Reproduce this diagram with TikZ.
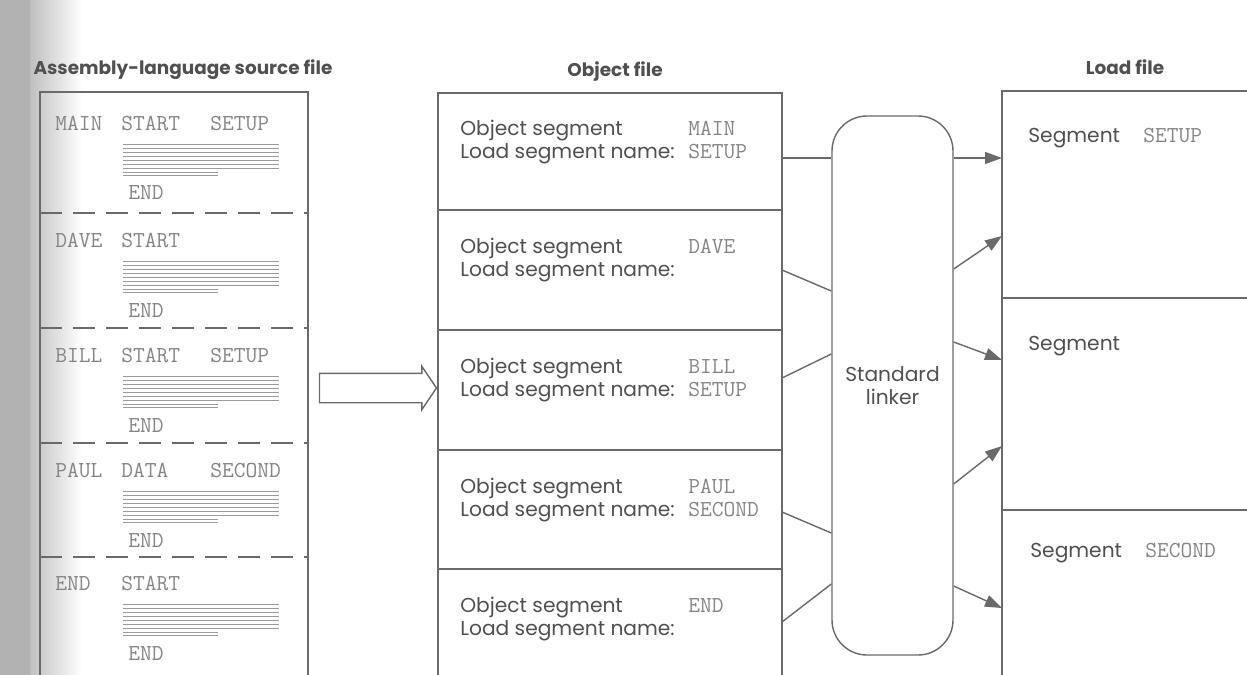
\documentclass[tikz,border=0pt]{standalone}
\usepackage{fontspec}
\setsansfont{Poppins}
\usetikzlibrary{arrows.meta,shapes.arrows}

\definecolor{ink}{HTML}{505050}
\definecolor{mono}{HTML}{858585}
\definecolor{rule}{HTML}{6A6A6A}
\definecolor{filler}{HTML}{9C9C9C}

\tikzset{
  frame/.style={draw=rule, line width=0.8pt},
  title/.style={font=\sffamily\bfseries\fontsize{10.5}{12}\selectfont, text=ink, inner sep=0pt, anchor=base},
  lbl/.style={font=\sffamily\fontsize{11.5}{13}\selectfont, text=ink, inner sep=0pt, anchor=base west},
  code/.style={font=\ttfamily\fontsize{13}{15}\selectfont, text=mono, inner sep=0pt, anchor=base west},
  link/.style={draw=rule, line width=0.8pt},
  feed/.style={link, -{Triangle[length=3.4mm,width=2.4mm]}},
}

\begin{document}
\begin{tikzpicture}[x=0.2mm, y=-0.2mm]
  \useasboundingbox (0,0) rectangle (1247,675);

  % page gutter shadow
  \fill[gray!60] (0,0) rectangle (30,675);
  \shade[left color=gray!50, right color=white] (30,0) rectangle (82,675);

  % titles
  \node[title] (srctitle) at (183,75) {Assembly-language source file};
  \node[title] (objtitle) at (615,77) {Object file};
  \node[title] (loadtitle) at (1125,75) {Load file};

  % assembly-language source file
  \draw[frame] (40,675) |- (308,92) -- (308,675);
  \foreach \y in {213,328,443,557}
    \draw[frame, dash pattern=on 4.4mm off 2.2mm] (40,\y) -- (308,\y);
  \foreach \i/\yb/\name/\opcode/\operand in {1/130/MAIN/START/SETUP, 2/247/DAVE/START/, 3/362/BILL/START/SETUP, 4/477/PAUL/DATA/SECOND, 5/590/END/START/} {
    \node[code] (srcname\i) at (55,\yb) {\name};
    \node[code] (srcop\i) at (121,\yb) {\opcode};
    \node[code] (srcarg\i) at (210,\yb) {\operand};
    \foreach \k in {0,...,6}
      \draw[filler, line width=0.5pt] (123,\yb+14+4*\k) -- (279,\yb+14+4*\k);
    \draw[filler, line width=0.5pt] (123,\yb+42) -- (218,\yb+42);
    \draw[filler, line width=0.5pt] (123,\yb+45) -- (218,\yb+45);
    \node[code] (srcend\i) at (128,\yb+70) {END};
  }

  % assembling
  \node[single arrow, draw=rule, line width=0.8pt, inner xsep=0pt, inner ysep=2.8mm,
        minimum height=23.4mm, single arrow head extend=1.4mm,
        single arrow tip angle=112] (asm) at (373,388) {};

  % object file
  \draw[frame] (438,675) |- (782,93) -- (782,675);
  \foreach \y in {210,330,450,569}
    \draw[frame] (438,\y) -- (782,\y);
  \foreach \i/\ytop/\seg/\load in {1/93/MAIN/SETUP, 2/210/DAVE/, 3/330/BILL/SETUP, 4/450/PAUL/SECOND, 5/569/END/} {
    \node[lbl] (objseg\i) at (460,\ytop+43) {Object segment};
    \node[code] (objname\i) at (688,\ytop+43) {\seg};
    \node[lbl] (objload\i) at (460,\ytop+66) {Load segment name:};
    \node[code] (objtarget\i) at (688,\ytop+66) {\load};
  }

  % linker
  \node[frame, rounded corners=7mm, minimum width=24.2mm, minimum height=107.8mm,
        align=center, font=\sffamily\fontsize{11.5}{13}\selectfont, text=ink] (linker) at (892.5,385.5) {Standard\\linker};

  % load file
  \draw[frame] (1002,675) |- (1247,91);
  \foreach \y in {298,510}
    \draw[frame] (1002,\y) -- (1247,\y);
  \node[lbl] (loadseg1) at (1028,142) {Segment};
  \node[code] (loadname1) at (1143,142) {SETUP};
  \node[lbl] (loadseg2) at (1028,350) {Segment};
  \node[lbl] (loadseg3) at (1030,557) {Segment};
  \node[code] (loadname3) at (1145,557) {SECOND};

  % object segments into the linker
  \foreach \i/\ya/\yb in {1/158/158, 2/270/291, 3/378/354, 4/512/533, 5/622/584} {
    \coordinate (src\i) at (782,\ya);
    \draw[link] (src\i) -- (linker.west |- 0,\yb);
  }
  % linker out to load segments
  \foreach \i/\ya/\yb in {1/158/158, 2/269/236, 3/342/360, 4/484/446, 5/586/608} {
    \coordinate (dst\i) at (1002,\yb);
    \draw[feed] (linker.east |- 0,\ya) -- (dst\i);
  }
\end{tikzpicture}
\end{document}
